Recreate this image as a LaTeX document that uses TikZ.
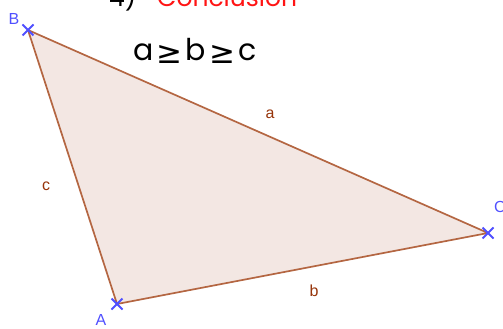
\documentclass[tikz,border=0pt]{standalone}
\usepackage{fontspec}
\setmainfont{Liberation Sans}
\newfontfamily\headfont{Poppins}
\newfontfamily\symfont{DejaVu Sans}
\definecolor{edgebrown}{RGB}{180,102,66}
\definecolor{fillpink}{RGB}{243,231,227}
\definecolor{ptblue}{RGB}{80,80,255}
\definecolor{lblbrown}{RGB}{150,52,10}
\definecolor{headred}{RGB}{255,20,20}
\newcommand{\geqsym}{\hspace{3pt}\raisebox{-3pt}{\symfont\fontsize{31}{31}\selectfont≥}\hspace{3pt}}
\tikzset{
  ptmark/.style={draw=ptblue, line width=1.9pt},
  ptlabel/.style={text=ptblue, font=\fontsize{16}{16}\selectfont},
  sidelabel/.style={text=lblbrown, font=\fontsize{16}{16}\selectfont},
  headtext/.style={anchor=base west, inner sep=0pt, font=\headfont\fontsize{25}{25}\selectfont},
}
\begin{document}
\begin{tikzpicture}[x=1pt, y=-1pt]
  \useasboundingbox (0,0) rectangle (503,329);
  \clip (0,0) rectangle (503,329);
  % heading, cut at the top
  \node[headtext] (num) at (109,7) {4)};
  \node[headtext, text=headred] (concl) at (157,7) {Conclusion};
  \node[font=\headfont\fontsize{30}{30}\selectfont] (ineq) at (195,51)
    {a\geqsym b\geqsym c};
  % triangle
  \coordinate (A) at (117,304);
  \coordinate (B) at (28,30);
  \coordinate (C) at (488,233);
  \filldraw[fill=fillpink, draw=edgebrown, line width=1.7pt, line join=round] (A) -- (B) -- (C) -- cycle;
  \foreach \p in {A,B,C}
    \draw[ptmark] ([shift={(-5.5,-5.5)}]\p) -- ([shift={(5.5,5.5)}]\p)
                  ([shift={(-5.5,5.5)}]\p) -- ([shift={(5.5,-5.5)}]\p);
  % vertex labels
  \node[ptlabel] (lA) at (101,320) {A};
  \node[ptlabel] (lB) at (14,19) {B};
  \node[ptlabel] (lC) at (500,207) {C};
  % side labels
  \node[sidelabel] (la) at (270,114) {a};
  \node[sidelabel] (lb) at (314,291) {b};
  \node[sidelabel] (lc) at (46,186) {c};
\end{tikzpicture}
\end{document}
